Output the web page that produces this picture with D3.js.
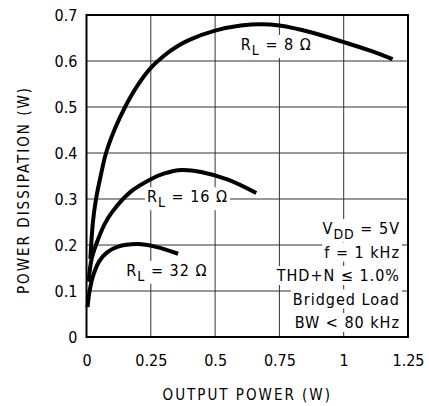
<!DOCTYPE html>
<html>
<head>
<meta charset="utf-8">
<script src="https://cdn.jsdelivr.net/npm/d3@7"></script>
<style>
  body { margin: 0; background: #fff; }
  svg text { font-family: "Liberation Sans Narrow", "DejaVu Sans Condensed", "Liberation Sans", sans-serif; fill: #000; }
</style>
</head>
<body>
<div id="chart"></div>
<script>
// data
var xTicks = [0, 0.25, 0.5, 0.75, 1, 1.25];
var xTickLabels = ["0", "0.25", "0.5", "0.75", "1", "1.25"];
var yTicks = [0, 0.1, 0.2, 0.3, 0.4, 0.5, 0.6, 0.7];
var yTickLabels = ["0", "0.1", "0.2", "0.3", "0.4", "0.5", "0.6", "0.7"];

var rl8 = [[0.015, 0.17], [0.025, 0.25], [0.037, 0.3], [0.055, 0.35], [0.076, 0.4], [0.11, 0.452],
    [0.15, 0.5], [0.2, 0.548], [0.25, 0.585], [0.3, 0.611], [0.35, 0.631], [0.4, 0.646],
    [0.5, 0.666], [0.6, 0.677], [0.68, 0.68], [0.75, 0.677], [0.875, 0.662], [1.0, 0.641],
    [1.1, 0.623], [1.19, 0.604]];
var rl16 = [[0.008, 0.12], [0.02, 0.17], [0.04, 0.205], [0.07, 0.245], [0.1, 0.272], [0.17, 0.315],
    [0.25, 0.343], [0.3, 0.355], [0.37, 0.363], [0.45, 0.358], [0.55, 0.342], [0.66, 0.313]];
var rl32 = [[0.004, 0.065], [0.012, 0.1], [0.025, 0.132], [0.05, 0.165], [0.08, 0.184],
    [0.12, 0.196], [0.2, 0.202], [0.27, 0.196], [0.356, 0.181]];

var curveLabels = [
    { sub: "L", rest: " = 8 Ω", x: 0.6, y: 0.624 },
    { sub: "L", rest: " = 16 Ω", x: 0.235, y: 0.293 },
    { sub: "L", rest: " = 32 Ω", x: 0.155, y: 0.133 }
];
var conditions = ["VDD = 5V", "f = 1 kHz", "THD+N ≤ 1.0%", "Bridged Load", "BW < 80 kHz"];

var svgW = 429, svgH = 406;
var pLeft = 86.5, pRight = 408, pTop = 15, pBottom = 337;

var svg = d3.select("#chart").append("svg")
    .attr("width", svgW)
    .attr("height", svgH);

var x = d3.scaleLinear().domain([0, 1.25]).range([pLeft, pRight]);
var y = d3.scaleLinear().domain([0, 0.7]).range([pBottom, pTop]);

// grid
svg.append("g")
    .selectAll("line")
    .data(xTicks.slice(1, -1))
    .enter().append("line")
    .attr("x1", function (d) { return x(d); })
    .attr("x2", function (d) { return x(d); })
    .attr("y1", pTop).attr("y2", pBottom)
    .attr("stroke", "#333").attr("stroke-width", 1);

svg.append("g")
    .selectAll("line")
    .data(yTicks.slice(1, -1))
    .enter().append("line")
    .attr("y1", function (d) { return y(d); })
    .attr("y2", function (d) { return y(d); })
    .attr("x1", pLeft).attr("x2", pRight)
    .attr("stroke", "#333").attr("stroke-width", 1);

// axes (labels only)
var xAxis = svg.append("g")
    .attr("transform", "translate(0," + pBottom + ")")
    .call(d3.axisBottom(x).tickValues(xTicks)
        .tickFormat(function (d, i) { return xTickLabels[i]; })
        .tickSize(0).tickPadding(18));
xAxis.select(".domain").remove();
xAxis.selectAll("text").style("font-size", "16px");

var yAxis = svg.append("g")
    .attr("transform", "translate(" + pLeft + ",0)")
    .call(d3.axisLeft(y).tickValues(yTicks)
        .tickFormat(function (d, i) { return yTickLabels[i]; })
        .tickSize(0).tickPadding(9));
yAxis.select(".domain").remove();
yAxis.selectAll("text").style("font-size", "16px");

// frame
svg.append("rect")
    .attr("x", pLeft).attr("y", pTop)
    .attr("width", pRight - pLeft).attr("height", pBottom - pTop)
    .attr("fill", "none").attr("stroke", "#000").attr("stroke-width", 2);

// curves
var line = d3.line()
    .x(function (d) { return x(d[0]); })
    .y(function (d) { return y(d[1]); })
    .curve(d3.curveCatmullRom.alpha(0.5));

[rl8, rl16, rl32].forEach(function (s) {
    svg.append("path")
        .datum(s)
        .attr("d", line)
        .attr("fill", "none")
        .attr("stroke", "#000")
        .attr("stroke-width", 4)
        .attr("stroke-linecap", "butt");
});

// label helper with white backing
function backed(t) {
    var b = t.node().getBBox();
    svg.insert("rect", function () { return t.node(); })
        .attr("x", b.x - 2).attr("y", b.y)
        .attr("width", b.width + 4).attr("height", b.height)
        .attr("fill", "#fff");
}

curveLabels.forEach(function (c) {
    var t = svg.append("text")
        .attr("x", x(c.x)).attr("y", y(c.y))
        .style("font-size", "16px")
        .style("letter-spacing", "1px");
    t.append("tspan").text("R");
    t.append("tspan").text(c.sub).attr("dy", 5).style("font-size", "14px");
    t.append("tspan").text(c.rest).attr("dy", -5);
    backed(t);
});

conditions.forEach(function (c, i) {
    var t = svg.append("text")
        .attr("x", 400).attr("y", 234 + i * 23.5)
        .attr("text-anchor", "end")
        .style("font-size", "16px")
        .style("letter-spacing", "1px");
    if (i === 0) {
        t.append("tspan").text("V");
        t.append("tspan").text("DD").attr("dy", 5).style("font-size", "14px");
        t.append("tspan").text(" = 5V").attr("dy", -5);
    } else {
        t.text(c);
    }
    backed(t);
});

// axis titles
svg.append("text")
    .attr("x", (pLeft + pRight) / 2).attr("y", 400)
    .attr("text-anchor", "middle")
    .style("font-size", "15px")
    .style("letter-spacing", "2px")
    .text("OUTPUT POWER (W)");

svg.append("text")
    .attr("transform", "translate(29,190) rotate(-90)")
    .attr("text-anchor", "middle")
    .style("font-size", "15px")
    .style("letter-spacing", "2px")
    .text("POWER DISSIPATION (W)");
</script>
</body>
</html>
